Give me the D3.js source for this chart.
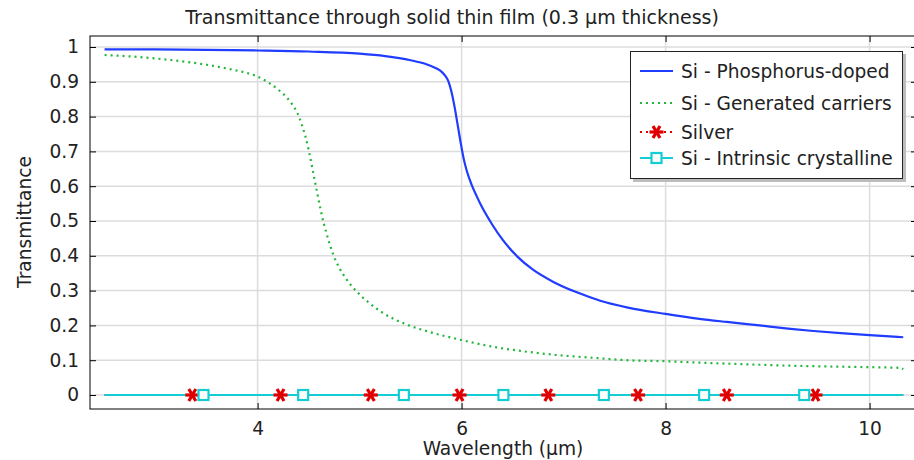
<!DOCTYPE html>
<html>
<head>
<meta charset="utf-8">
<script src="https://cdn.jsdelivr.net/npm/d3@7"></script>
<style>
  html, body { margin: 0; padding: 0; background: #fff; }
  svg { display: block; font-family: "DejaVu Sans", sans-serif; }
</style>
</head>
<body>
<svg id="chart" width="914" height="460"></svg>
<script>
// Wavelength (µm) and transmittance for each film material
const wlPhosphorus = [2.5, 3.0, 3.5, 4.0, 4.5, 5.0, 5.25, 5.5, 5.65, 5.75, 5.8, 5.84, 5.87, 5.9, 5.93, 5.96, 5.99, 6.02, 6.05, 6.1, 6.15, 6.2, 6.3, 6.4, 6.55, 6.7, 6.9, 7.13, 7.36, 7.62, 8.0, 8.33, 8.6, 8.92, 9.2, 9.45, 9.75, 10.0, 10.33];
const tPhosphorus = [0.993, 0.993, 0.992, 0.990, 0.987, 0.981, 0.974, 0.962, 0.951, 0.939, 0.930, 0.917, 0.902, 0.872, 0.830, 0.779, 0.727, 0.680, 0.645, 0.603, 0.570, 0.540, 0.490, 0.447, 0.397, 0.360, 0.325, 0.295, 0.271, 0.252, 0.233, 0.219, 0.210, 0.200, 0.191, 0.184, 0.177, 0.172, 0.166];

const wlCarriers = [2.5, 2.75, 3.0, 3.25, 3.5, 3.75, 3.9, 4.0, 4.1, 4.2, 4.28, 4.34, 4.39, 4.43, 4.47, 4.5, 4.53, 4.56, 4.59, 4.62, 4.65, 4.69, 4.74, 4.8, 4.87, 4.97, 5.08, 5.24, 5.44, 5.7, 6.0, 6.32, 6.65, 6.97, 7.29, 7.62, 8.0, 8.43, 8.92, 9.25, 9.6, 10.0, 10.3, 10.33];
const tCarriers = [0.977, 0.973, 0.967, 0.959, 0.949, 0.935, 0.925, 0.915, 0.899, 0.878, 0.857, 0.835, 0.810, 0.780, 0.742, 0.705, 0.662, 0.617, 0.573, 0.530, 0.492, 0.450, 0.405, 0.366, 0.333, 0.298, 0.268, 0.234, 0.205, 0.180, 0.158, 0.138, 0.124, 0.114, 0.107, 0.100, 0.097, 0.092, 0.087, 0.084, 0.082, 0.080, 0.078, 0.074];

const wlSilver = [2.5, 3.36, 4.225, 5.11, 5.98, 6.85, 7.73, 8.6, 9.47, 10.33];
const tSilver = [0, 0, 0, 0, 0, 0, 0, 0, 0, 0];
const silverMarkerIdx = [1, 2, 3, 4, 5, 6, 7, 8];

const wlIntrinsic = [2.5, 3.47, 4.447, 5.434, 6.41, 7.395, 8.378, 9.359, 10.33];
const tIntrinsic = [0, 0, 0, 0, 0, 0, 0, 0, 0];
const intrinsicMarkerIdx = [1, 2, 3, 4, 5, 6, 7];

const xTicks = [4, 6, 8, 10];
const yTicks = [0, 0.1, 0.2, 0.3, 0.4, 0.5, 0.6, 0.7, 0.8, 0.9, 1];

const seriesNames = ["Si - Phosphorus-doped", "Si - Generated carriers", "Silver", "Si - Intrinsic crystalline"];
const colors = { blue: "#1f3cff", green: "#22b63a", red: "#e00000", cyan: "#14cdd2" };

const textColor = "#222";
const labelSize = "18.6px";

const svg = d3.select("#chart");
const plot = { left: 90, right: 917, top: 36, bottom: 409 };

const x = d3.scaleLinear().domain([2.357, 10.465]).range([plot.left, plot.right]);
const y = d3.scaleLinear().domain([-0.0402, 1.0316]).range([plot.bottom, plot.top]);

// Grid
const grid = svg.append("g").attr("stroke", "#dcdcdc").attr("stroke-width", 1.5);
grid.selectAll(".gx").data(xTicks).join("line")
  .attr("x1", d => x(d)).attr("x2", d => x(d))
  .attr("y1", plot.top).attr("y2", plot.bottom);
grid.selectAll(".gy").data(yTicks).join("line")
  .attr("x1", plot.left).attr("x2", plot.right)
  .attr("y1", d => y(d)).attr("y2", d => y(d));

// Axes with inward ticks
const axisStyle = g => {
  g.select(".domain").remove();
  g.selectAll(".tick line").attr("stroke", "#000");
  g.selectAll(".tick text").attr("fill", textColor).style("font-size", labelSize).style("font-family", "DejaVu Sans, sans-serif");
};
svg.append("g").attr("transform", `translate(0,${plot.bottom})`)
  .call(d3.axisBottom(x).tickValues(xTicks).tickSizeInner(-6).tickSizeOuter(0).tickPadding(12.5).tickFormat(d3.format("d")))
  .call(axisStyle);
svg.append("g").attr("transform", `translate(0,${plot.top})`)
  .call(d3.axisTop(x).tickValues(xTicks).tickSizeInner(-6).tickSizeOuter(0).tickFormat(""))
  .call(axisStyle);
svg.append("g").attr("transform", `translate(${plot.left},0)`)
  .call(d3.axisLeft(y).tickValues(yTicks).tickSizeInner(-6).tickSizeOuter(0).tickPadding(11).tickFormat(d => d === 0 || d === 1 ? d3.format("d")(d) : d3.format(".1f")(d)))
  .call(axisStyle);
svg.append("g").attr("transform", `translate(${plot.right},0)`)
  .call(d3.axisRight(y).tickValues(yTicks).tickSizeInner(-6).tickSizeOuter(0).tickFormat(""))
  .call(axisStyle);

// Frame
svg.append("rect")
  .attr("x", plot.left).attr("y", plot.top)
  .attr("width", plot.right - plot.left).attr("height", plot.bottom - plot.top)
  .attr("fill", "none").attr("stroke", "#000").attr("stroke-width", 1);

const line = d3.line().x(d => x(d[0])).y(d => y(d[1])).curve(d3.curveMonotoneX);
const zip = (a, b) => a.map((v, i) => [v, b[i]]);

// Curves
svg.append("path").datum(zip(wlSilver, tSilver)).attr("d", line)
  .attr("fill", "none").attr("stroke", colors.red).attr("stroke-width", 2).attr("stroke-dasharray", "2,4");
svg.append("path").datum(zip(wlIntrinsic, tIntrinsic)).attr("d", line)
  .attr("fill", "none").attr("stroke", colors.cyan).attr("stroke-width", 2.2);
svg.append("path").datum(zip(wlCarriers, tCarriers)).attr("d", line)
  .attr("fill", "none").attr("stroke", colors.green).attr("stroke-width", 2.2).attr("stroke-dasharray", "2,4");
svg.append("path").datum(zip(wlPhosphorus, tPhosphorus)).attr("d", line)
  .attr("fill", "none").attr("stroke", colors.blue).attr("stroke-width", 2.2);

// Marker shapes
function asterisk(g, cx, cy) {
  const r = 7;
  [0, 60, 120].forEach(a => {
    const rad = a * Math.PI / 180;
    g.append("line")
      .attr("x1", cx - r * Math.cos(rad)).attr("y1", cy - r * Math.sin(rad))
      .attr("x2", cx + r * Math.cos(rad)).attr("y2", cy + r * Math.sin(rad))
      .attr("stroke", colors.red).attr("stroke-width", 3.2);
  });
}
function square(g, cx, cy) {
  g.append("rect").attr("x", cx - 5).attr("y", cy - 5).attr("width", 10).attr("height", 10)
    .attr("fill", "#fff").attr("stroke", colors.cyan).attr("stroke-width", 2.2);
}

const markers = svg.append("g");
silverMarkerIdx.forEach(i => asterisk(markers, x(wlSilver[i]), y(tSilver[i])));
intrinsicMarkerIdx.forEach(i => square(markers, x(wlIntrinsic[i]), y(tIntrinsic[i])));

// Legend
const lg = svg.append("g");
lg.append("rect").attr("x", 633).attr("y", 54).attr("width", 273).attr("height", 128).attr("fill", "#bdbdbd");
lg.append("rect").attr("x", 630.5).attr("y", 51.5).attr("width", 272).attr("height", 127)
  .attr("fill", "#fff").attr("stroke", "#222").attr("stroke-width", 1);
const rowsY = [71, 103, 132, 158];
const sx1 = 640, sx2 = 673;
lg.append("line").attr("x1", sx1).attr("x2", sx2).attr("y1", rowsY[0]).attr("y2", rowsY[0])
  .attr("stroke", colors.blue).attr("stroke-width", 2.2);
lg.append("line").attr("x1", sx1).attr("x2", sx2).attr("y1", rowsY[1]).attr("y2", rowsY[1])
  .attr("stroke", colors.green).attr("stroke-width", 2.2).attr("stroke-dasharray", "2,4");
lg.append("line").attr("x1", sx1).attr("x2", sx2).attr("y1", rowsY[2]).attr("y2", rowsY[2])
  .attr("stroke", colors.red).attr("stroke-width", 2).attr("stroke-dasharray", "2,4");
asterisk(lg, (sx1 + sx2) / 2, rowsY[2]);
lg.append("line").attr("x1", sx1).attr("x2", sx2).attr("y1", rowsY[3]).attr("y2", rowsY[3])
  .attr("stroke", colors.cyan).attr("stroke-width", 2.2);
square(lg, (sx1 + sx2) / 2, rowsY[3]);
lg.selectAll("text.lbl").data(seriesNames).join("text")
  .attr("x", 681).attr("y", (d, i) => rowsY[i]).attr("dy", "0.35em")
  .attr("fill", textColor).style("font-size", labelSize).text(d => d);

// Titles
svg.append("text").attr("x", 452).attr("y", 24).attr("text-anchor", "middle")
  .attr("fill", textColor).style("font-size", "19px")
  .text("Transmittance through solid thin film (0.3 µm thickness)");
svg.append("text").attr("x", 503).attr("y", 455).attr("text-anchor", "middle")
  .attr("fill", textColor).style("font-size", "18.6px").text("Wavelength (µm)");
svg.append("text").attr("transform", "translate(24,222) rotate(-90)").attr("dy", "0.35em").attr("text-anchor", "middle")
  .attr("fill", textColor).style("font-size", labelSize).text("Transmittance");
</script>
</body>
</html>
